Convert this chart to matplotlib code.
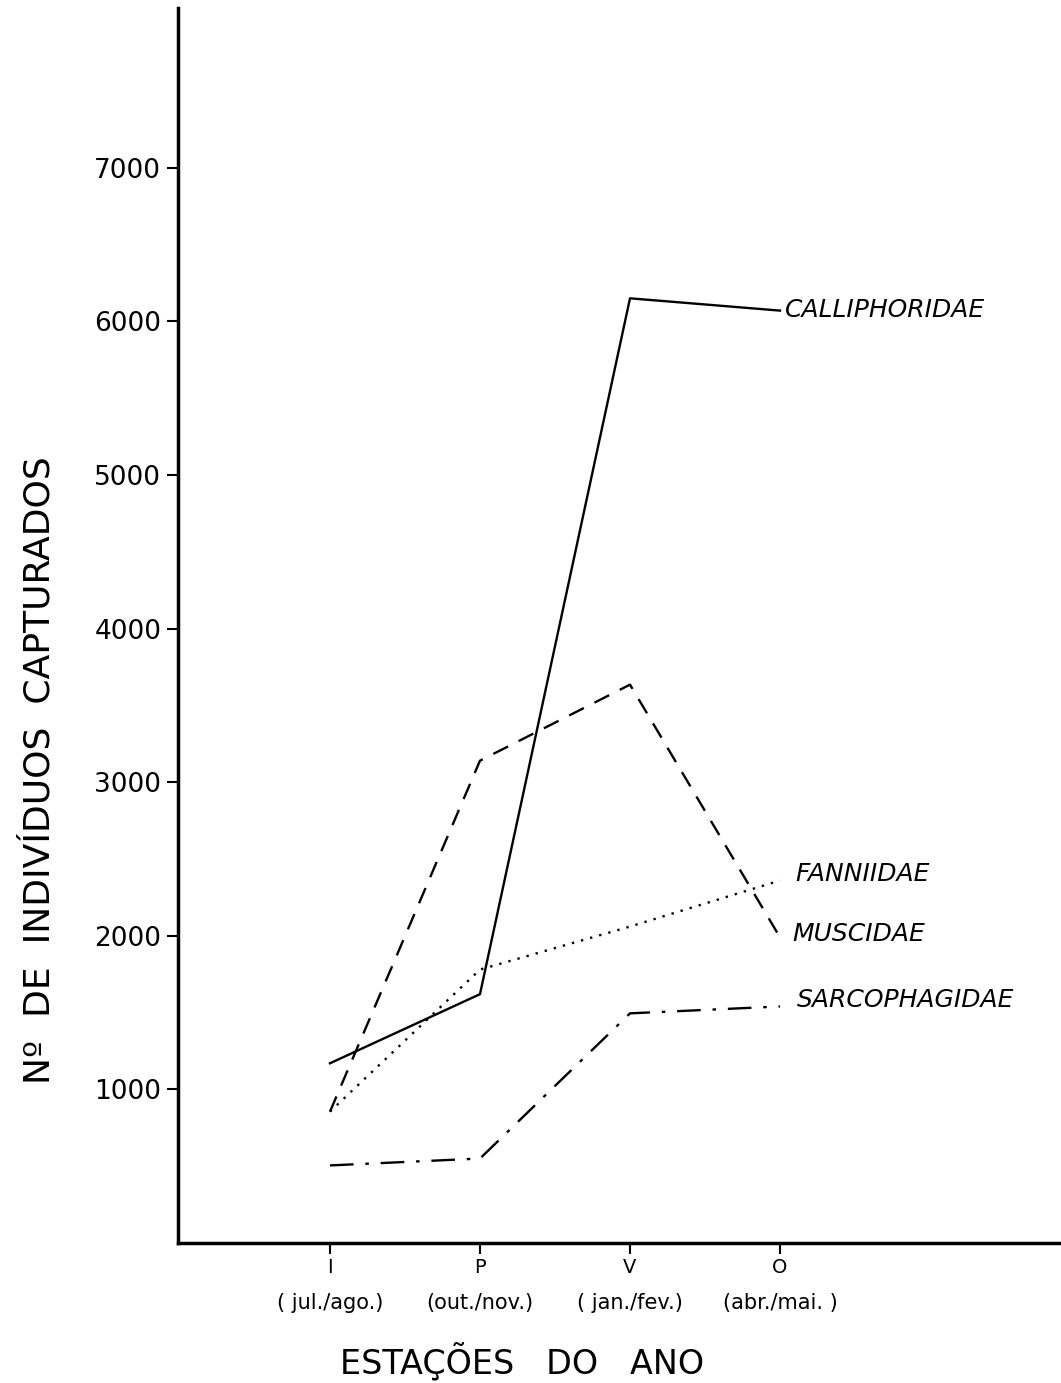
import matplotlib
matplotlib.use("Agg")
from matplotlib import pyplot as plt
from matplotlib import transforms

# seasons on the x axis
estacoes = ["I", "P", "V", "O"]
meses = ["( jul./ago.)", "(out./nov.)", "( jan./fev.)", "(abr./mai. )"]

# number of individuals captured per family and season
calliphoridae = [1170, 1620, 6150, 6070]
muscidae = [855, 3140, 3635, 1990]
fanniidae = [855, 1780, 2060, 2360]
sarcophagidae = [505, 550, 1495, 1540]

familias = ["CALLIPHORIDAE", "MUSCIDAE", "FANNIIDAE", "SARCOPHAGIDAE"]
yticks = [1000, 2000, 3000, 4000, 5000, 6000, 7000]


W, H = 1061, 1383
fig = plt.figure(figsize=(W/100, H/100), dpi=100)
ax = fig.add_axes([178/W, 1 - 1243/H, 1 - 178/W, (1243 - 8)/H])

x = [1, 2, 3, 4]
lw = 1.7
ax.plot(x, calliphoridae, color="black", lw=lw, linestyle="-")
ax.plot(x, muscidae, color="black", lw=lw, linestyle=(0, (7, 5)))
ax.plot(x, fanniidae, color="black", lw=lw, linestyle=(0, (1, 3)))
ax.plot(x, sarcophagidae, color="black", lw=lw, linestyle=(0, (10, 5, 1.5, 5)))

# family names at the end of each line
txt = dict(fontsize=18, style="italic", va="center", ha="left", color="black")
ax.text(4.03, 6075, familias[0], **txt)
ax.text(4.10, 2400, familias[2], **txt)
ax.text(4.08, 2010, familias[1], **txt)
ax.text(4.11, 1580, familias[3], **txt)

ax.set_xlim(-0.013, 5.873)
ax.set_ylim(0, 8040)

ax.set_xticks(x)
ax.set_xticklabels(estacoes, fontsize=14)
ax.set_yticks(yticks)
ax.set_yticklabels([str(v) for v in yticks], fontsize=19)
ax.tick_params(axis="y", direction="out", length=8, width=1.5, pad=4)
ax.tick_params(axis="x", direction="out", length=8, width=1.5, pad=3)

# months under each season letter
trans = transforms.blended_transform_factory(ax.transData, fig.transFigure)
for xi, m in zip(x, meses):
    ax.text(xi, 1 - 1303/H, m, transform=trans, fontsize=15,
            ha="center", va="center")

for s in ["top", "right"]:
    ax.spines[s].set_visible(False)
ax.spines["left"].set_linewidth(2.5)
ax.spines["bottom"].set_linewidth(2.5)

fig.text(40/W, 1 - 770/H, "Nº  DE  INDIVÍDUOS  CAPTURADOS", fontsize=26,
         rotation=90, ha="center", va="center")
fig.text(522/W, 1 - 1362/H, "ESTAÇÕES   DO   ANO", fontsize=24,
         ha="center", va="center")

fig.savefig("out.png", dpi=100)
